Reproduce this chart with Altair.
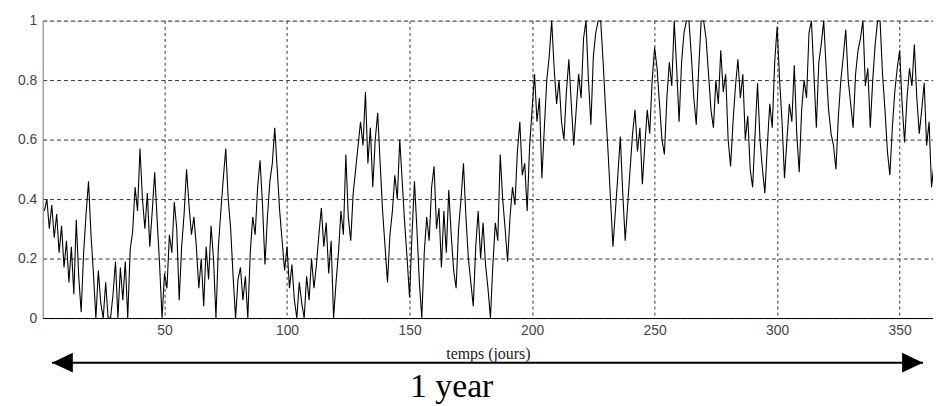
import altair as alt
import pandas as pd

# ---- daily values (0..1), day 1 onwards ----
seg_jan_feb = [0.36, 0.40, 0.30, 0.38, 0.27, 0.35, 0.22, 0.31, 0.17, 0.26,
               0.12, 0.24, 0.08, 0.33, 0.14, 0.02, 0.22, 0.35, 0.46, 0.28,
               0.15, 0.00, 0.16, 0.05, 0.00, 0.12, 0.00, 0.00, 0.08,
               0.19, 0.00, 0.17, 0.06, 0.19, 0.00, 0.23, 0.29, 0.44, 0.36,
               0.57, 0.40, 0.30, 0.42, 0.24, 0.36, 0.49, 0.33, 0.18, 0.00,
               0.15, 0.10, 0.28, 0.22, 0.39, 0.30, 0.06, 0.24, 0.35, 0.50]
seg_mar_apr = [0.38, 0.28, 0.34, 0.24, 0.10, 0.20, 0.04, 0.24, 0.13, 0.31,
               0.20, 0.00, 0.24, 0.36, 0.47, 0.57, 0.40, 0.30, 0.14, 0.00,
               0.13, 0.17, 0.06, 0.14, 0.00, 0.22, 0.34, 0.28, 0.44, 0.53,
               0.38, 0.18, 0.34, 0.46, 0.52, 0.64, 0.50, 0.36, 0.26, 0.16,
               0.24, 0.10, 0.18, 0.06, 0.00, 0.12, 0.05, 0.00, 0.14, 0.06,
               0.20, 0.10, 0.18, 0.28, 0.37, 0.24, 0.32, 0.15, 0.26, 0.00]
seg_may_jun = [0.12, 0.22, 0.36, 0.28, 0.55, 0.34, 0.26, 0.42, 0.50, 0.58, 0.66,
               0.58, 0.76, 0.52, 0.64, 0.44, 0.60, 0.69, 0.52, 0.36, 0.24,
               0.12, 0.28, 0.36, 0.48, 0.40, 0.60, 0.46, 0.32, 0.20, 0.07,
               0.28, 0.46, 0.30, 0.12, 0.00, 0.22, 0.34, 0.26, 0.44, 0.51,
               0.30, 0.37, 0.17, 0.36, 0.22, 0.43, 0.28, 0.16, 0.10, 0.30,
               0.40, 0.52, 0.34, 0.20, 0.12, 0.04, 0.24, 0.36, 0.20, 0.32]
seg_jul_aug = [0.18, 0.10, 0.00, 0.18, 0.32, 0.26, 0.55, 0.40, 0.30, 0.19,
               0.34, 0.44, 0.38, 0.56, 0.66, 0.48, 0.52, 0.36, 0.58, 0.70,
               0.82, 0.66, 0.74, 0.47, 0.64, 0.80, 0.88, 1.00, 0.84, 0.72,
               0.80, 0.66, 0.60, 0.76, 0.87, 0.72, 0.58, 0.70, 0.82, 0.74,
               0.94, 1.00, 0.80, 0.65, 0.88, 0.96, 1.00, 1.00, 0.86, 0.70,
               0.56, 0.40, 0.24, 0.36, 0.48, 0.61, 0.42, 0.26, 0.38, 0.50]
seg_sep_oct = [0.62, 0.70, 0.56, 0.64, 0.45, 0.58, 0.70, 0.62, 0.80, 0.91, 0.84,
               0.72, 0.60, 0.55, 0.74, 0.86, 0.78, 1.00, 0.84, 0.66, 0.86,
               0.96, 1.00, 1.00, 0.88, 0.74, 0.65, 0.84, 1.00, 1.00, 0.94,
               0.82, 0.70, 0.64, 0.80, 0.72, 0.90, 0.76, 0.82, 0.60, 0.51,
               0.66, 0.78, 0.87, 0.74, 0.82, 0.60, 0.68, 0.50, 0.44, 0.62,
               0.79, 0.60, 0.50, 0.42, 0.58, 0.72, 0.64, 0.86, 0.98, 0.80]
seg_nov_dec = [0.66, 0.47, 0.60, 0.72, 0.66, 0.85, 0.62, 0.49, 0.70, 0.80,
               0.74, 0.96, 1.00, 0.82, 0.64, 0.86, 0.92, 1.00, 0.84, 0.70, 0.62,
               0.58, 0.50, 0.68, 0.80, 0.88, 0.97, 0.80, 0.72, 0.64, 0.82,
               0.90, 0.94, 1.00, 0.78, 0.84, 0.64, 0.80, 0.92, 1.00, 1.00,
               0.82, 0.70, 0.56, 0.48, 0.64, 0.76, 0.84, 0.90, 0.72, 0.59,
               0.74, 0.84, 0.78, 0.92, 0.74, 0.62, 0.70, 0.79, 0.58, 0.66,
               0.44, 0.52, 0.60, 0.50, 0.56]

values = seg_jan_feb + seg_mar_apr + seg_may_jun + seg_jul_aug + seg_sep_oct + seg_nov_dec
days = list(range(1, len(values) + 1))

x_ticks = [50, 100, 150, 200, 250, 300, 350]
y_ticks = [0, 0.2, 0.4, 0.6, 0.8, 1]
x_title = "temps (jours)"

# annotation: the "1 year" arrow below the axis (in days)
arrow_start = [4.1]
arrow_end = [359.5]
year_label = ["1 year"]
year_label_day = [167.2]

df = pd.DataFrame({"day": days, "value": values})

x_scale = alt.Scale(domain=[0.3, 363.6], nice=False, zero=False)
y_scale = alt.Scale(domain=[0, 1], nice=False)

x_axis = alt.Axis(values=x_ticks, title=x_title, grid=True, gridDash=[3, 3],
                  gridColor="#333333", gridWidth=1, domainColor="black",
                  domainWidth=1, ticks=False, labelPadding=6, labelFlush=False,
                  labelFont="Liberation Sans", labelFontSize=14,
                  labelColor="#444444", titleFont="Liberation Serif",
                  titleFontSize=16, titleFontWeight="normal", titleColor="#222222",
                  titleY=36, titleBaseline="middle")
y_axis = alt.Axis(values=y_ticks, format=".1~f", title=None, grid=True,
                  gridDash=[4, 3], gridColor="#333333", gridWidth=1,
                  domainColor="#808080", domainWidth=1, ticks=False,
                  labelPadding=6, labelFont="Liberation Sans", labelFontSize=14,
                  labelColor="#444444")

line = alt.Chart(df).mark_line(color="black", strokeWidth=1.1, clip=True).encode(
    x=alt.X("day:Q", scale=x_scale, axis=x_axis),
    y=alt.Y("value:Q", scale=y_scale, axis=y_axis),
)

arrow_df = pd.DataFrame({"day": arrow_start, "day_end": arrow_end})
arrow_line = alt.Chart(arrow_df).mark_rule(color="black", strokeWidth=2).encode(
    x=alt.X("day:Q", scale=x_scale, axis=x_axis),
    x2=alt.X2("day_end:Q"),
    y=alt.value(345),
)
left_head = alt.Chart(pd.DataFrame({"day": arrow_start})).mark_point(
    shape="M0,0L2.1,-1L2.1,1Z", size=400, filled=True, color="black",
    opacity=1, strokeWidth=0).encode(
    x=alt.X("day:Q", scale=x_scale, axis=x_axis), y=alt.value(345))
right_head = alt.Chart(pd.DataFrame({"day": arrow_end})).mark_point(
    shape="M0,0L-2.1,-1L-2.1,1Z", size=400, filled=True, color="black",
    opacity=1, strokeWidth=0).encode(
    x=alt.X("day:Q", scale=x_scale, axis=x_axis), y=alt.value(345))

label = alt.Chart(pd.DataFrame({"day": year_label_day, "text": year_label})).mark_text(
    font="Liberation Serif", fontSize=34, align="center", baseline="alphabetic",
    color="black").encode(
    x=alt.X("day:Q", scale=x_scale, axis=x_axis), y=alt.value(380), text="text:N")

chart = alt.layer(line, arrow_line, left_head, right_head, label).properties(
    width=898, height=300,
    padding={"left": 35, "top": 11, "right": 0, "bottom": 87},
    autosize=alt.AutoSizeParams(type="none"),
).configure_view(strokeWidth=0).configure(background="white")

chart.save("out.html", embed_options={"renderer": "svg", "actions": False})
